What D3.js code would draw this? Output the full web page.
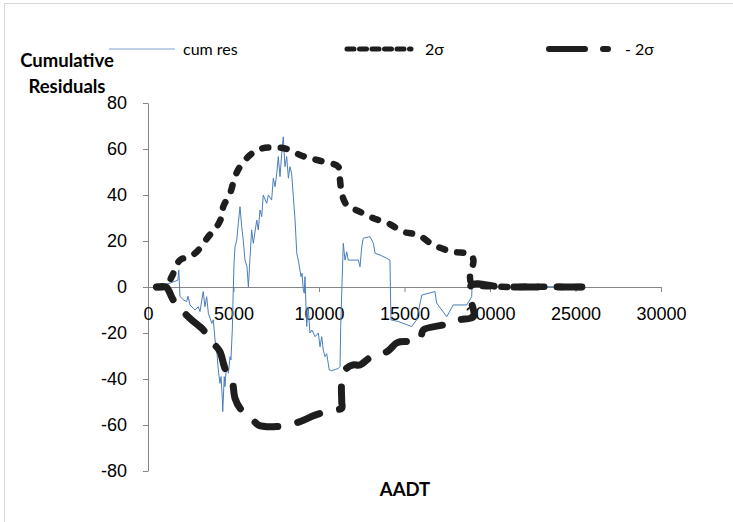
<!DOCTYPE html>
<html>
<head>
<meta charset="utf-8">
<script src="https://cdn.jsdelivr.net/npm/d3@7"></script>
<style>
  body { margin: 0; background: #fff; }
  svg { font-family: Lato, "Open Sans", sans-serif; }
  .axis path, .axis line { stroke: #868686; }
  .axis text { fill: #000; font-size: 18px; }
</style>
</head>
<body>
<script>

/* cumulative residuals */
var cumResAadt = [500,1000,1400,1750,1800,1870,2050,2260,2340,2460,
  2650,2750,2940,3040,3230,3330,3430,3530,3730,3820,
  3920,4020,4110,4210,4270,4350,4370,4460,4500,4600,
  4700,4800,4850,4930,4990,5030,5090,5190,5280,5380,
  5480,5570,5670,5790,5870,5970,6060,6160,6360,6450,
  6550,6650,6740,6940,7040,7230,7330,7430,7530,7620,
  7720,7820,7910,8010,8110,8210,8300,8400,8500,8600,
  8700,8790,8950,9010,9080,9140,9180,9280,9370,9470,
  9590,9770,9960,10060,10160,10250,10350,10450,10540,10600,
  10740,11130,11230,11270,11330,11420,11520,11620,11710,12300,
  12400,12500,12590,12980,13180,13280,13570,13960,14150,14190,
  14210,14640,15420,15710,16010,16780,16880,17470,17850,18640,
  18930,18950,20000,22000,25500];
var cumResValue = [0,1,2,3,7.4,-4,-5.5,-6.4,-4,-7.8,
  -9.3,-10,-8.6,-10.7,-2,-8.6,-4.2,-11.4,-15.8,-14.3,
  -23,-27.4,-36,-41.9,-39,-49,-54.2,-39,-43.3,-33.2,
  -37.5,-30.3,-31.7,-18.7,0,10,17.5,20.4,27.7,34.9,
  26.2,20.4,11.7,8.8,0,13.2,24.8,19,29.1,24.8,
  33.5,30.6,40,36.4,40,37.8,47.3,43.6,49.4,56.7,
  48,58.1,65.3,52.3,56.7,47.3,52.3,49.4,39.3,29.1,
  14.6,11.7,4.5,6,-1.3,-2.7,4.5,-17.2,-8.6,-20,
  -18.7,-21.6,-20,-26,-21.6,-27.4,-30.3,-29,-33.2,-36,
  -36.4,-35.4,-34.6,-17.2,-2.7,19,11.7,15.3,11.7,11.7,
  8.8,17.5,21.2,21.9,19,14.6,13.9,12.5,11.7,-7,
  -14.3,-15,-17.2,-14.3,-3.5,-2,-7,-12.9,-7.8,-7.8,
  -4.2,0,0.3,0.2,0];

/* +2 sigma */
var upperAadt = [500,1050,1390,1870,2460,2940,3530,4020,4310,4400,
  4800,5090,5380,5970,6550,7330,8110,8890,9470,10250,
  11130,11230,11330,11620,12400,13180,14050,14930,15800,16690,
  17760,18830,19030,18830,18930,20580,22500,25460];
var upperValue = [0,0.3,4.5,11.7,13.2,16,21.9,26.2,30.6,34.9,
  40.7,48,52.3,57.4,60,60.7,60,57.4,56,54.5,
  52.3,46.5,40.7,35.7,32.7,29.9,27.7,24,22.6,18.3,
  15.4,14.2,11.7,4.5,1.6,0.1,0.1,0];

/* -2 sigma */
var lowerAadt = [500,1050,1190,1480,1870,2550,3240,3630,4200,4500,4890,
  5090,5380,6060,6450,7520,8890,9770,10840,11330,11330,
  11330,11520,12000,12400,13180,14000,14500,14740,15900,16100,
  17270,18150,19030,18930,18830,18930,20580,22500,25460];
var lowerValue = [0,0,-1.3,-5.7,-9.3,-14.3,-18.7,-23,-28,-35.4,-39.7,
  -48.4,-52.7,-57,-60,-60.7,-58.5,-55.7,-53.5,-52.7,-49.9,
  -41.2,-36,-33.9,-33.9,-29.6,-28,-24.5,-23.8,-23,-18.7,
  -16.5,-14.3,-12.9,-7.1,-4.9,0.9,0.1,0,0];

var xTicks = [0,5000,10000,15000,20000,25000,30000];
var yTicks = [-80,-60,-40,-20,0,20,40,60,80];

var W = 733, H = 522;

var svg = d3.select("body").append("svg")
  .attr("width", W).attr("height", H);

// chart frame
svg.append("rect")
  .attr("x", 4.5).attr("y", 3.5)
  .attr("width", 740).attr("height", 530)
  .attr("fill", "#fff").attr("stroke", "#d9d9d9");

var x = d3.scaleLinear().domain([0, 30000]).range([148, 661]);
var y = d3.scaleLinear().domain([-80, 80]).range([471, 103]);

// axes
svg.append("g").attr("class", "axis")
  .attr("transform", "translate(148,0)")
  .call(d3.axisLeft(y).tickValues(yTicks).tickSize(5).tickSizeOuter(0)
    .tickPadding(16).tickFormat(function(d){ return String(d); }));

svg.append("g").attr("class", "axis")
  .attr("transform", "translate(0," + y(0) + ")")
  .call(d3.axisBottom(x).tickValues(xTicks).tickSize(5).tickSizeOuter(0)
    .tickPadding(15).tickFormat(function(d){ return String(d); }));

function pts(xs, ys) {
  return xs.map(function(d, i){ return [d, ys[i]]; });
}

var line = d3.line()
  .x(function(d){ return x(d[0]); })
  .y(function(d){ return y(d[1]); });

var smooth = d3.line()
  .x(function(d){ return x(d[0]); })
  .y(function(d){ return y(d[1]); })
  .curve(d3.curveCatmullRom.alpha(0.5));

// cum res
svg.append("path")
  .datum(pts(cumResAadt, cumResValue))
  .attr("d", line)
  .attr("fill", "none")
  .attr("stroke", "#4a7ebb")
  .attr("stroke-width", 1);

// 2 sigma
svg.append("path")
  .datum(pts(upperAadt, upperValue))
  .attr("d", smooth)
  .attr("fill", "none")
  .attr("stroke", "#1e1e1e")
  .attr("stroke-width", 6.5)
  .attr("stroke-linecap", "round")
  .attr("stroke-linejoin", "round")
  .attr("stroke-dasharray", "6,12.5");

// -2 sigma
svg.append("path")
  .datum(pts(lowerAadt, lowerValue))
  .attr("d", smooth)
  .attr("fill", "none")
  .attr("stroke", "#1e1e1e")
  .attr("stroke-width", 7)
  .attr("stroke-linecap", "round")
  .attr("stroke-linejoin", "round")
  .attr("stroke-dasharray", "24,20");

// legend
var ly = 49;
var legend = svg.append("g").style("font-size", "16px");
legend.append("line").attr("x1", 109).attr("x2", 175).attr("y1", ly).attr("y2", ly)
  .attr("stroke", "#7fa4d3").attr("stroke-width", 1);
legend.append("text").attr("x", 183).attr("y", ly).attr("dy", "0.35em").text("cum res");

legend.append("line").attr("x1", 347).attr("x2", 411).attr("y1", ly).attr("y2", ly)
  .attr("stroke", "#1e1e1e").attr("stroke-width", 5)
  .attr("stroke-linecap", "round").attr("stroke-dasharray", "7,5.5");
legend.append("text").attr("x", 425).attr("y", ly).attr("dy", "0.35em").text("2σ");

legend.append("line").attr("x1", 549).attr("x2", 608).attr("y1", ly).attr("y2", ly)
  .attr("stroke", "#1e1e1e").attr("stroke-width", 6)
  .attr("stroke-linecap", "round").attr("stroke-dasharray", "36,18");
legend.append("text").attr("x", 625).attr("y", ly).attr("dy", "0.35em").text("- 2σ");

// axis titles
var title = svg.append("g").style("font-size", "18.5px").style("font-weight", "bold")
  .attr("text-anchor", "middle");
title.append("text").attr("x", 67).attr("y", 61).attr("dy", "0.35em").text("Cumulative");
title.append("text").attr("x", 67).attr("y", 87).attr("dy", "0.35em").text("Residuals");
title.append("text").attr("x", 405).attr("y", 490).attr("dy", "0.35em").text("AADT");

</script>
</body>
</html>
